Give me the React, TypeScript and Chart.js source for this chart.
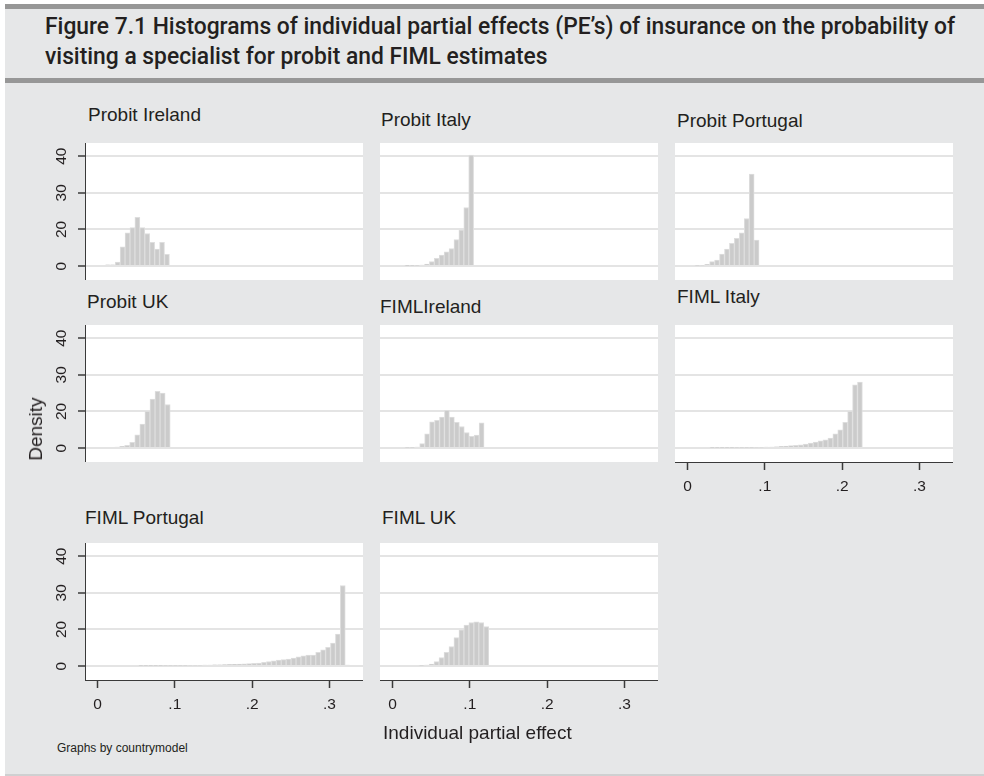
import React, { useEffect, useLayoutEffect, useRef } from 'react';
import { Chart, registerables } from 'chart.js';

Chart.register(...registerables);

// ---- data -------------------------------------------------------------
const panelTitles = [
  'Probit Ireland', 'Probit Italy', 'Probit Portugal',
  'Probit UK', 'FIMLIreland', 'FIML Italy',
  'FIML Portugal', 'FIML UK',
];

// Histogram densities, one value per bin, left to right
const probitIreland = [0.7, 0.7, 2.2, 10.5, 18.2, 20.5, 23.3, 20.5, 17.8, 12.9, 9.3, 12.9, 6.4];
const probitItaly = [0.2, 0.3, 0.4, 0.6, 1.1, 2.4, 4.2, 6.0, 7.8, 9.6, 14.5, 19.6, 26, 40.3];
const probitPortugal = [0.35, 0.5, 0.9, 2.4, 3.3, 6.5, 9.3, 12.4, 15.1, 18.2, 23, 35.1, 14.2];
const probitUK = [0.55, 0.9, 1.45, 3.1, 7.3, 13.1, 20, 23.4, 25.5, 25, 21.9];
const fimlIreland = [0.36, 0.36, 0.55, 2.4, 7.8, 14.4, 15.1, 16.9, 20.3, 16.9, 14, 11.8, 8.5, 6.4, 7.1, 13.8];
const fimlItaly = [
  0.3, 0.3, 0.3, 0.3, 0.3, 0.35, 0.35, 0.4, 0.4, 0.45, 0.5, 0.55, 0.6, 0.7, 0.9, 1.1,
  1.3, 1.5, 1.8, 2.2, 2.7, 3.3, 4.0, 4.5, 5.5, 7.8, 10, 14, 20, 27.3, 28,
];
const fimlPortugal = [
  0.3, 0.3, 0.3, 0.3, 0.3, 0.35, 0.35, 0.4, 0.4, 0.4, 0.45, 0.5, 0.5, 0.55, 0.6, 0.7,
  0.75, 0.8, 0.9, 1.0, 1.1, 1.2, 1.3, 1.45, 1.6, 2.0, 2.5, 2.9, 3.3, 3.5, 3.8, 4.4,
  5.1, 5.6, 6.0, 6.0, 7.5, 8.9, 10.2, 12.5, 17.5, 32, 0.55,
];
const fimlUK = [0.36, 0.55, 1.1, 2.4, 4.7, 7.5, 10.7, 15.6, 19.8, 21.2, 21.9, 22.1, 21.9, 20.8];

const panelData = [
  probitIreland, probitItaly, probitPortugal,
  probitUK, fimlIreland, fimlItaly,
  fimlPortugal, fimlUK,
];

// Left edge of the first bin and the bin width of each panel
const binStarts = [0.0101, 0.0159, 0.0094, 0.022, 0.0159, 0.0288, 0.053, 0.0344];
const binWidths = [0.00638, 0.00636, 0.0064, 0.00655, 0.00641, 0.00637, 0.00637, 0.00644];

const xTickValues = [0, 0.1, 0.2, 0.3];
const xTickLabels = ['0', '.1', '.2', '.3'];
const yTickDensities = [0, 20, 30, 40];
const yTickLabels = ['0', '20', '30', '40'];

// ---- layout -----------------------------------------------------------
const PLOT_LEFT = [85, 380, 675];
const PLOT_TOP = [143, 325, 543];
const PLOT_W = 278;
const PLOT_H = 137;
const Y_AXIS_W = 60;
const X_AXIS_H = 50;
const X_MIN = -0.0162;
const X_MAX = 0.3435;
const Y_MIN = -3.8;
const Y_MAX = 33.6;
const GRID_STEP = 10; // gridlines are evenly spaced, one per tick label

const panelCells: [number, number][] = [
  [0, 0], [0, 1], [0, 2],
  [1, 0], [1, 1], [1, 2],
  [2, 0], [2, 1],
];
const panelsWithXAxis = [5, 6, 7];
const titleLeft = [88, 381, 677, 87, 380, 677, 85, 382];
const titleTop = [104, 109, 110, 291, 296, 286, 507, 507];

const TEXT = '#231f20';
const AXIS = '#3a3a3a';
const GRID = '#e4e4e4';
const BG = '#e6e7e8';
const SANS = '"Liberation Sans", Arial, Helvetica, sans-serif';

// Density -> position on the evenly spaced gridline axis
function toAxis(d: number): number {
  for (let i = 1; i < yTickDensities.length; i++) {
    const lo = yTickDensities[i - 1];
    const hi = yTickDensities[i];
    if (d <= hi || i === yTickDensities.length - 1) {
      return (i - 1) * GRID_STEP + ((d - lo) / (hi - lo)) * GRID_STEP;
    }
  }
  return 0;
}

const plotBackground = {
  id: 'plotBackground',
  beforeDraw(chart: any) {
    const { ctx, chartArea: a } = chart;
    ctx.save();
    ctx.fillStyle = '#ffffff';
    ctx.fillRect(a.left, a.top, a.right - a.left, a.bottom - a.top);
    ctx.restore();
  },
};

function HistogramPanel({ index }: { index: number }) {
  const ref = useRef<HTMLCanvasElement>(null);
  const [row, col] = panelCells[index];
  const hasY = col === 0;
  const hasX = panelsWithXAxis.includes(index);
  const left = PLOT_LEFT[col] - (hasY ? Y_AXIS_W : 0);
  const width = PLOT_W + (hasY ? Y_AXIS_W : 0);
  const height = PLOT_H + (hasX ? X_AXIS_H : 0);

  useEffect(() => {
    const values = panelData[index];
    const start = binStarts[index];
    const w = binWidths[index];
    const points = values.map((d, i) => ({ x: start + (i + 0.5) * w, y: toAxis(d) }));
    const tickFont = { family: SANS, size: 15.5 };

    const chart = new Chart(ref.current as HTMLCanvasElement, {
      type: 'bar',
      data: {
        datasets: [
          {
            data: points,
            backgroundColor: '#cbcbcb',
            borderColor: '#dedede',
            borderWidth: 1,
            barPercentage: 1,
            categoryPercentage: 1,
          },
        ],
      },
      options: {
        responsive: false,
        animation: false,
        events: [],
        layout: { padding: 0, autoPadding: false },
        plugins: {
          legend: { display: false },
          tooltip: { enabled: false },
        },
        scales: {
          x: {
            type: 'linear',
            min: X_MIN,
            max: X_MAX,
            offset: false,
            display: hasX,
            grid: {
              offset: false,
              drawOnChartArea: false,
              drawTicks: true,
              tickLength: 8,
              tickColor: AXIS,
              tickWidth: 1.5,
            },
            border: { display: true, color: AXIS, width: 1 },
            ticks: {
              padding: 7,
              font: tickFont,
              color: TEXT,
              maxRotation: 0,
              minRotation: 0,
              autoSkip: false,
              callback: (_v: any, i: number) => xTickLabels[i],
            },
            afterBuildTicks: (s: any) => {
              s.ticks = xTickValues.map((value) => ({ value }));
            },
            afterFit: (s: any) => {
              s.height = hasX ? X_AXIS_H : 0;
              s.paddingLeft = 0;
              s.paddingRight = 0;
            },
          },
          y: {
            type: 'linear',
            min: Y_MIN,
            max: Y_MAX,
            grid: {
              color: GRID,
              lineWidth: 2,
              drawTicks: hasY,
              tickLength: 7,
              tickColor: AXIS,
              tickWidth: 1.5,
            },
            border: { display: hasY, color: AXIS, width: 1 },
            ticks: {
              display: hasY,
              padding: 8,
              minRotation: 90,
              maxRotation: 90,
              crossAlign: 'center',
              font: tickFont,
              color: TEXT,
              callback: (_v: any, i: number) => yTickLabels[i],
            },
            afterBuildTicks: (s: any) => {
              s.ticks = yTickDensities.map((d) => ({ value: toAxis(d) }));
            },
            afterFit: (s: any) => {
              s.width = hasY ? Y_AXIS_W : 0;
              s.paddingTop = 0;
              s.paddingBottom = 0;
            },
          },
        },
      } as any,
      plugins: [plotBackground],
    });
    return () => chart.destroy();
  }, [index]);

  return (
    <>
      <div
        style={{
          position: 'absolute',
          left: titleLeft[index],
          top: titleTop[index],
          font: `19px ${SANS}`,
          lineHeight: '22px',
          color: TEXT,
          whiteSpace: 'nowrap',
        }}
      >
        {panelTitles[index]}
      </div>
      <canvas
        ref={ref}
        width={width}
        height={height}
        style={{ position: 'absolute', left, top: PLOT_TOP[row], width, height }}
      />
    </>
  );
}

const TITLE_W = 910;

export default function App() {
  const titleRef = useRef<HTMLDivElement>(null);
  const line1Ref = useRef<HTMLSpanElement>(null);

  useLayoutEffect(() => {
    const t = titleRef.current;
    const l1 = line1Ref.current;
    if (!t || !l1) return;
    const w = l1.getBoundingClientRect().width;
    if (w > 0) t.style.transform = `scaleX(${TITLE_W / w})`;
  }, []);

  return (
    <div
      style={{
        position: 'absolute',
        left: 0,
        top: 0,
        width: 984,
        height: 776,
        background: '#ffffff',
        overflow: 'hidden',
      }}
    >
      <div
        style={{
          position: 'absolute',
          left: 5,
          top: 4,
          width: 979,
          height: 770,
          background: BG,
          borderBottom: '2px solid #cfd0d1',
        }}
      />
      <div style={{ position: 'absolute', left: 5, top: 4, width: 979, height: 5, background: '#979797' }} />
      <div style={{ position: 'absolute', left: 5, top: 78, width: 979, height: 5, background: '#979797' }} />

      <div
        ref={titleRef}
        style={{
          position: 'absolute',
          left: 45,
          top: 12,
          transformOrigin: '0 0',
          font: '500 23px Roboto, "Liberation Sans", Arial, sans-serif',
          lineHeight: '30px',
          color: TEXT,
          whiteSpace: 'nowrap',
        }}
      >
        <span ref={line1Ref}>
          Figure 7.1 Histograms of individual partial effects (PE’s) of insurance on the probability of
        </span>
        <br />
        visiting a specialist for probit and FIML estimates
      </div>

      {panelTitles.map((_, i) => (
        <HistogramPanel key={i} index={i} />
      ))}

      <div
        style={{
          position: 'absolute',
          left: 35.5,
          top: 429,
          transform: 'translate(-50%, -50%) rotate(-90deg)',
          font: `19px ${SANS}`,
          lineHeight: '22px',
          color: TEXT,
          whiteSpace: 'nowrap',
        }}
      >
        Density
      </div>
      <div
        style={{
          position: 'absolute',
          left: 383,
          top: 722,
          font: `19px ${SANS}`,
          lineHeight: '22px',
          color: TEXT,
          whiteSpace: 'nowrap',
        }}
      >
        Individual partial effect
      </div>
      <div
        style={{
          position: 'absolute',
          left: 57,
          top: 741,
          font: `12px ${SANS}`,
          lineHeight: '14px',
          color: TEXT,
          whiteSpace: 'nowrap',
        }}
      >
        Graphs by countrymodel
      </div>
    </div>
  );
}
